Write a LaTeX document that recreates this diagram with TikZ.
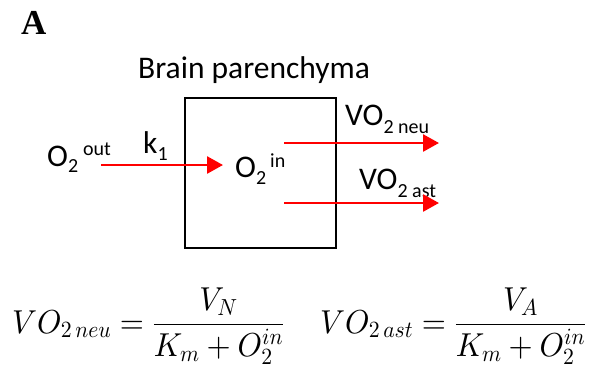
\documentclass[tikz,border=0pt]{standalone}
\DeclareFontFamily{OML}{cmm}{\skewchar\font'177}
\DeclareFontShape{OML}{cmm}{m}{it}{<->cmmi10}{}
\DeclareFontFamily{OMS}{cmsy}{\skewchar\font'60}
\DeclareFontShape{OMS}{cmsy}{m}{n}{<->cmsy10}{}
\DeclareFontFamily{OMX}{cmex}{}
\DeclareFontShape{OMX}{cmex}{m}{n}{<->cmex10}{}
\DeclareFontFamily{OT1}{cmr}{\hyphenchar\font45 }
\DeclareFontShape{OT1}{cmr}{m}{n}{<->cmr10}{}
\usepackage{fontspec}
\setmainfont{Carlito}
\newfontfamily\serifA{Liberation Serif}
\usetikzlibrary{arrows.meta}
\begin{document}
\begin{tikzpicture}[x=1pt,y=-1pt,
  lbl/.style={font=\fontsize{31.5}{36}\selectfont, inner sep=0pt, anchor=base west},
  redarr/.style={draw=red, line width=2.6pt, -{Triangle[length=16pt,width=17pt]}},
  eq/.style={font=\fontsize{31}{36}\selectfont, inner sep=0pt, anchor=base west}]
\newcommand{\sm}[1]{{\fontsize{20}{20}\selectfont #1}}
\useasboundingbox (0,0) rectangle (591,368);
\node[inner sep=0pt, anchor=base west, font=\fontsize{35}{40}\selectfont\serifA\bfseries] (A) at (21,34) {A};
\node[lbl] (title) at (138,78) {Brain parenchyma};
\node[draw, line width=2.3pt, minimum width=151pt, minimum height=150pt, inner sep=0pt, anchor=north west] (box) at (184,97) {};
\node[lbl] (oout) at (47,166) {O\raisebox{-6pt}{\sm{2}}\hspace{5pt}\raisebox{11pt}{\sm{out}}};
\node[lbl] (k) at (143,153) {k\raisebox{-7pt}{\sm{1}}};
\node[lbl] (oin) at (235,177) {O\raisebox{-7pt}{\sm{2}}\hspace{4pt}\raisebox{10pt}{\sm{in}}};
\node[lbl] (vneu) at (345,125) {VO\raisebox{-8pt}{\sm{2 neu}}};
\node[lbl] (vast) at (359,189) {VO\raisebox{-8pt}{\sm{2 ast}}};
\coordinate (s1) at (101,165);
\coordinate (e1) at (223,165);
\coordinate (s2) at (284,143);
\coordinate (e2) at (439,143);
\coordinate (s3) at (284,203);
\coordinate (e3) at (439,203);
\draw[redarr] (s1) -- (e1);
\draw[redarr] (s2) -- (e2);
\draw[redarr] (s3) -- (e3);
\node[eq] (eq1) at (12,333) {\scalebox{1}[1.07]{$\displaystyle VO_{2\,neu}=\frac{V_N}{K_m+O_2^{in}}$}};
\node[eq] (eq2) at (320,333) {\scalebox{1}[1.07]{$\displaystyle VO_{2\,ast}=\frac{V_A}{K_m+O_2^{in}}$}};
\end{tikzpicture}
\end{document}
